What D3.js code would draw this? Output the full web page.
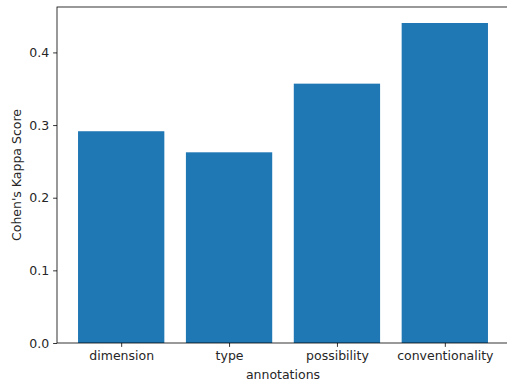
<!DOCTYPE html>
<html><head><meta charset="utf-8">
<script src="https://cdn.jsdelivr.net/npm/d3@7"></script>
<style>body{margin:0;background:#fff}svg{display:block}text{font-family:"DejaVu Sans",sans-serif;font-size:12.5px;fill:#262626}</style>
</head><body><svg id="c" width="507" height="383"></svg>
<script>
const categories = ["dimension","type","possibility","conventionality"];
const values = [0.2915,0.2625,0.357,0.4405];
const yTicks = [0.0,0.1,0.2,0.3,0.4];

const svg = d3.select("#c");
const L=57, T=7, R=509, B=343;
const x = d3.scaleLinear().domain([-0.595,3.595]).range([L,R]);
const y = d3.scaleLinear().domain([0, d3.max(values)*1.05]).range([B,T]);

svg.selectAll("rect.bar").data(values).join("rect").attr("class","bar")
  .attr("x",(d,i)=>x(i-0.4)).attr("width",(d,i)=>x(i+0.4)-x(i-0.4))
  .attr("y",d=>y(d)).attr("height",d=>B-y(d)).attr("fill","#1f77b4");

const ya = svg.append("g").attr("transform",`translate(${L},0)`)
  .call(d3.axisLeft(y).tickValues(yTicks).tickFormat(d3.format(".1f")).tickSize(3.9).tickPadding(4));
const xa = svg.append("g").attr("transform",`translate(0,${B})`)
  .call(d3.axisBottom(x).tickValues(d3.range(categories.length)).tickFormat(i=>categories[i]).tickSize(3.9).tickPadding(4));
[ya,xa].forEach(g=>{g.select(".domain").remove();g.selectAll("line").attr("stroke","#000").attr("stroke-width",0.8);g.selectAll("text").attr("fill","#262626").style("font-size","12.5px").style("font-family","DejaVu Sans");});

svg.append("rect").attr("x",L).attr("y",T).attr("width",R-L).attr("height",B-T)
  .attr("fill","none").attr("stroke","#000").attr("stroke-width",0.8);

svg.append("text").attr("x",(L+R)/2).attr("y",379).attr("text-anchor","middle").text("annotations");
svg.append("text").attr("transform",`translate(21,${(T+B)/2}) rotate(-90)`).attr("text-anchor","middle").text("Cohen's Kappa Score");
</script></body></html>
